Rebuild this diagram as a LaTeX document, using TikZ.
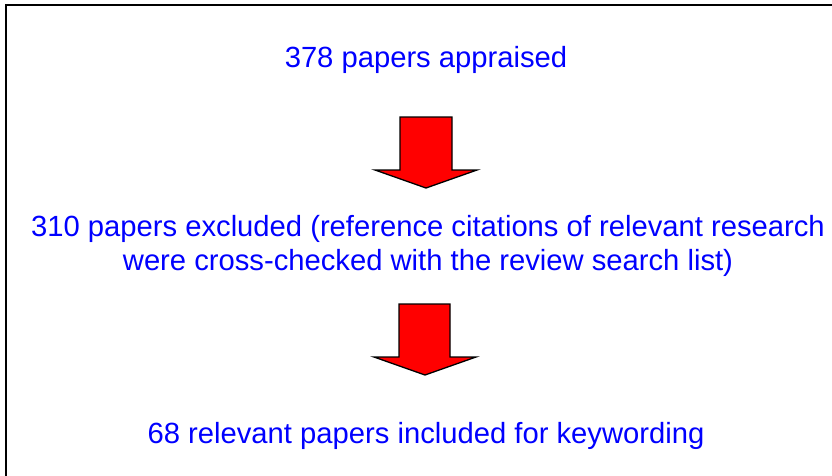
\documentclass[tikz,border=0pt]{standalone}
\usepackage{fontspec}
\setmainfont{Liberation Sans}
\definecolor{flowblue}{RGB}{0,0,255}
\definecolor{flowred}{RGB}{255,0,0}
\tikzset{
  flowtext/.style={text=flowblue, font=\fontsize{29.2}{33.7}\selectfont, align=center, inner sep=0pt, anchor=base},
  blockarrow/.style={fill=flowred, draw=black, line width=1.3pt, line join=miter},
  frame/.style={draw=black, line width=2.2pt}
}
\begin{document}
\begin{tikzpicture}[x=1pt, y=-1pt]
  \useasboundingbox (0,0) rectangle (832,475);
  \clip (0,0) rectangle (832,475);
  \fill[white] (0,0) rectangle (832,475);
  % outer frame, running past the right and bottom edges
  \draw[frame] (6,5) rectangle (850,495);

  % stage texts (base anchor of a two-line node sits on its last line)
  \node[flowtext] (appraised) at (426,67) {378 papers appraised};
  \node[flowtext] (excluded) at (428,270) {310 papers excluded (reference citations of relevant research\\were cross-checked with the review search list)};
  \node[flowtext] (included) at (426,443) {68 relevant papers included for keywording};

  % block arrows between the stages
  \draw[blockarrow] (400,117) -- (452,117) -- (452,170) -- (477,170) -- (426,188)
                    -- (375,170) -- (400,170) -- cycle;
  \draw[blockarrow] (399,304) -- (450,304) -- (450,357) -- (476,357) -- (425,375)
                    -- (374,357) -- (399,357) -- cycle;
\end{tikzpicture}
\end{document}
